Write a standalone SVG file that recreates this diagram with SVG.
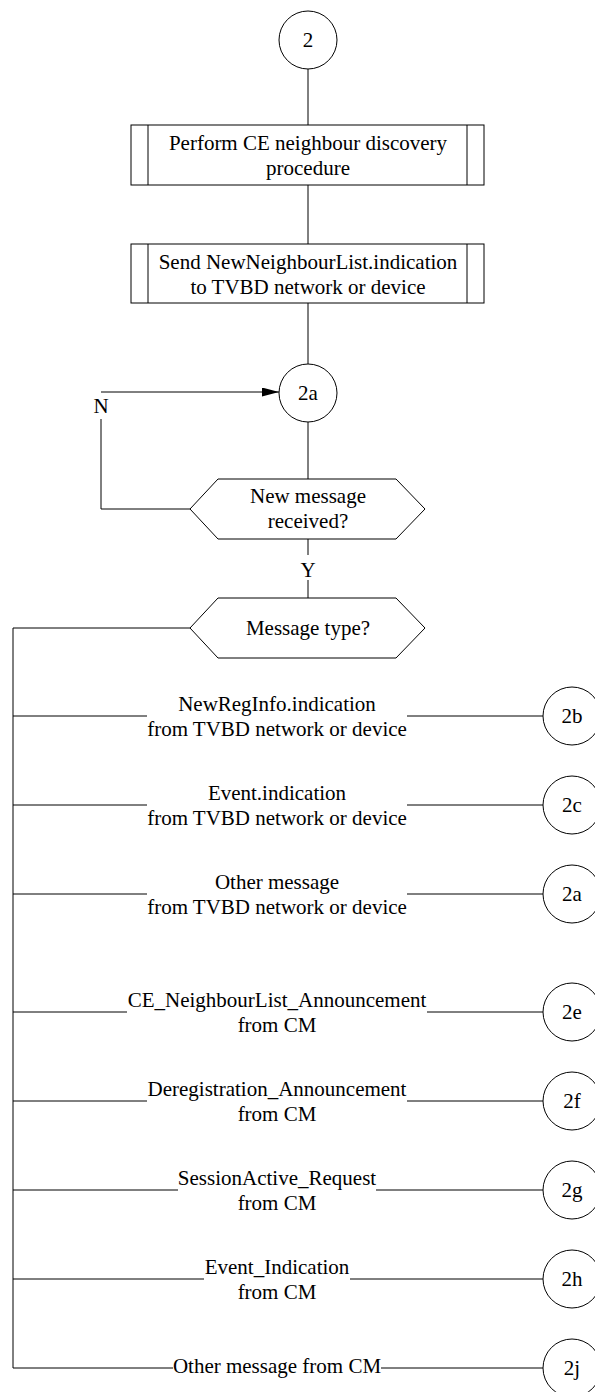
<svg xmlns="http://www.w3.org/2000/svg" width="595" height="1392" viewBox="0 0 595 1392">
<style>
.shape{fill:#fff;stroke:#000;stroke-width:1}
.ln{fill:none;stroke:#000;stroke-width:1}
text{font-family:"Liberation Serif","Times New Roman",serif;font-size:21px;fill:#000;text-anchor:middle}
</style>
<defs>
<marker id="arr" markerUnits="userSpaceOnUse" markerWidth="17" markerHeight="9" refX="17" refY="4.5" orient="auto">
<path d="M0,0 L17,4.5 L0,9 z" fill="#000"/>
</marker>
</defs>
<rect width="595" height="1392" fill="#fff"/>
<g id="connectors">
<path class="ln" d="M308,69 V125"/>
<path class="ln" d="M308,185 V244"/>
<path class="ln" d="M308,303 V364"/>
<path class="ln" d="M308,422 V479"/>
<path class="ln" d="M308,539 V555"/>
<path class="ln" d="M308,580 V598"/>
<path class="ln" d="M190,509 H101 V419"/>
<path class="ln" d="M101,392 H279" marker-end="url(#arr)"/>
<text x="101" y="413">N</text>
<text x="308" y="577">Y</text>
<path class="ln" d="M190,628 H13 V1368"/>
<!-- branches -->
<path class="ln" d="M13,716 H147 M407,716 H543"/>
<text x="277" y="711">NewRegInfo.indication</text>
<text x="277" y="736">from TVBD network or device</text>
<path class="ln" d="M13,805 H147 M407,805 H543"/>
<text x="277" y="800">Event.indication</text>
<text x="277" y="825">from TVBD network or device</text>
<path class="ln" d="M13,894 H147 M407,894 H543"/>
<text x="277" y="889">Other message</text>
<text x="277" y="914">from TVBD network or device</text>
<path class="ln" d="M13,1012 H127 M427,1012 H543"/>
<text x="277" y="1007">CE_NeighbourList_Announcement</text>
<text x="277" y="1032">from CM</text>
<path class="ln" d="M13,1101 H147 M407,1101 H543"/>
<text x="277" y="1096">Deregistration_Announcement</text>
<text x="277" y="1121">from CM</text>
<path class="ln" d="M13,1190 H178 M376,1190 H543"/>
<text x="277" y="1185">SessionActive_Request</text>
<text x="277" y="1210">from CM</text>
<path class="ln" d="M13,1279 H204 M350,1279 H543"/>
<text x="277" y="1274">Event_Indication</text>
<text x="277" y="1299">from CM</text>
<path class="ln" d="M13,1368 H173 M381,1368 H543"/>
<text x="277" y="1373">Other message from CM</text>
</g>
<g id="start2">
<circle class="shape" cx="308" cy="40" r="29"/>
<text x="308" y="47">2</text>
</g>
<g id="discovery">
<rect class="shape" x="131" y="125" width="353" height="60"/>
<path class="ln" d="M148,125 V185 M467,125 V185"/>
<text x="308" y="150">Perform CE neighbour discovery</text>
<text x="308" y="175">procedure</text>
</g>
<g id="sendlist">
<rect class="shape" x="131" y="244" width="353" height="59"/>
<path class="ln" d="M148,244 V303 M467,244 V303"/>
<text x="308" y="269">Send NewNeighbourList.indication</text>
<text x="308" y="294">to TVBD network or device</text>
</g>
<g id="c2a">
<circle class="shape" cx="308" cy="393" r="29"/>
<text x="308" y="400">2a</text>
</g>
<g id="newmsg">
<polygon class="shape" points="190,509 218,479 396,479 425,509 396,539 218,539"/>
<text x="308" y="503">New message</text>
<text x="308" y="528">received?</text>
</g>
<g id="msgtype">
<polygon class="shape" points="190,628 218,598 396,598 425,628 396,658 218,658"/>
<text x="308" y="635">Message type?</text>
</g>
<g id="c2b"><circle class="shape" cx="572" cy="716" r="29"/><text x="572" y="723">2b</text></g>
<g id="c2c"><circle class="shape" cx="572" cy="805" r="29"/><text x="572" y="812">2c</text></g>
<g id="c2a2"><circle class="shape" cx="572" cy="894" r="29"/><text x="572" y="901">2a</text></g>
<g id="c2e"><circle class="shape" cx="572" cy="1012" r="29"/><text x="572" y="1019">2e</text></g>
<g id="c2f"><circle class="shape" cx="572" cy="1101" r="29"/><text x="572" y="1108">2f</text></g>
<g id="c2g"><circle class="shape" cx="572" cy="1190" r="29"/><text x="572" y="1197">2g</text></g>
<g id="c2h"><circle class="shape" cx="572" cy="1279" r="29"/><text x="572" y="1286">2h</text></g>
<g id="c2j"><circle class="shape" cx="572" cy="1368" r="29"/><text x="572" y="1375">2j</text></g>
</svg>
